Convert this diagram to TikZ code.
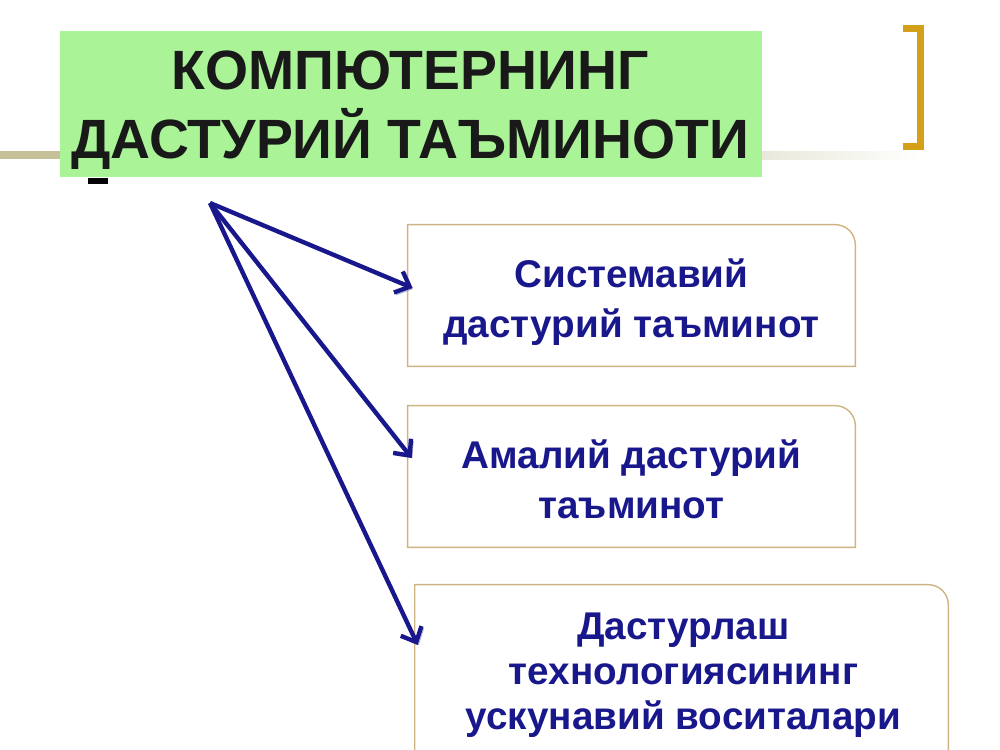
\documentclass[tikz,border=0pt]{standalone}
\usepackage{fontspec}
\setmainfont{Liberation Sans}
\usepackage{tikz}
\usetikzlibrary{arrows.meta}
\usetikzlibrary{calc}
\definecolor{navy}{RGB}{24,24,140}
\definecolor{titlegreen}{RGB}{170,243,150}
\definecolor{frametan}{RGB}{206,180,130}
\definecolor{rulekhaki}{RGB}{198,192,152}
\definecolor{rulefaint}{RGB}{232,232,218}
\definecolor{bracketgold}{RGB}{212,160,24}
\definecolor{shadeblue}{RGB}{160,162,200}

\tikzset{
  framebox/.style={minimum width=8.94cm, minimum height=2.82cm, inner sep=0pt},
  frameline/.style={draw=frametan, line width=0.8pt},
  boxtext/.style={align=center, text=navy, font=\bfseries\fontsize{22}{28.4}\selectfont},
  feed/.style={draw=navy, line width=2.5pt, -{Straight Barb[length=7pt,width=13pt]},
    preaction={draw=shadeblue, transform canvas={shift={(1.3pt,-1.3pt)}}}}
}

\begin{document}
\begin{tikzpicture}[x=0.02cm,y=-0.02cm]
\useasboundingbox (0,0) rectangle (1000,750);
\clip (0,0) rectangle (1000,750);
% rule and bracket
\fill [rulekhaki] (0,151) rectangle (60,159);
\shade [left color=rulefaint, right color=white] (762,151) rectangle (925,159);
\draw [bracketgold, line width=0.14cm] (903,28.5) -- (920,28.5) -- (920,146.5) -- (903,146.5);
% title
\node [fill=titlegreen, inner sep=0pt, minimum width=14.04cm, minimum height=2.92cm] (title) at (411,104) {};
\node [align=center, text=black!90, font=\bfseries\fontsize{31.5}{39.5}\selectfont] (titletext) at (410,110) {КОМПЮТЕРНИНГ\\ДАСТУРИЙ ТАЪМИНОТИ};
\fill (88,178) rectangle (108,184);
% boxes
\node [framebox] (sysbox) at (631.5,295.5) {};
\node [framebox] (appbox) at (631.5,476.5) {};
\node [framebox, minimum width=10.66cm, minimum height=3.4cm] (toolbox) at (681.5,670) {};
\foreach \b in {sysbox,appbox,toolbox}
  \draw [frameline] (\b.south west) -- (\b.north west) -- ([xshift=-0.4cm]\b.north east)
    arc [start angle=90, end angle=0, radius=0.4cm] -- (\b.south east) -- cycle;
\node [boxtext] (sys) at (631.5,302) {Системавий\\дастурий таъминот};
\node [boxtext] (app) at (631.5,479) {Амалий дастурий\\таъминот};
\node [boxtext, font=\bfseries\fontsize{22}{25.5}\selectfont] (tool) at (683.5,675) {Дастурлаш\\технологиясининг\\ускунавий воситалари};
% arrows
\coordinate (root) at (210,203);
\draw [feed] (root) -- ($(sysbox.west)+(5,-7.5)$);
\draw [feed] (root) -- ($(appbox.west)+(4,-18.5)$);
\draw [feed] (root) -- ($(toolbox.west)+(3,-25)$);
\end{tikzpicture}
\end{document}
